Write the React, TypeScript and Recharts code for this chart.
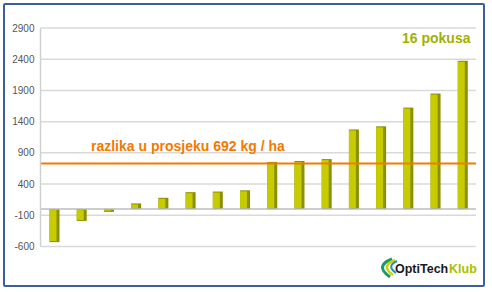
import { Bar, BarChart, CartesianGrid, ReferenceLine, XAxis, YAxis } from "recharts";

const trials = ["1", "2", "3", "4", "5", "6", "7", "8", "9", "10", "11", "12", "13", "14", "15", "16"];
const yieldDiff = [-530, -190, -45, 90, 180, 270, 280, 300, 755, 770, 800, 1275, 1325, 1625, 1850, 2375];
const yTicks = [-600, -100, 400, 900, 1400, 1900, 2400, 2900];
const avgLine = 730;
const avgLabel = "razlika u prosjeku 692 kg / ha";
const countLabel = "16 pokusa";

const data = trials.map((t, i) => ({ trial: t, diff: yieldDiff[i] }));

const FONT = "'Liberation Sans', Arial, sans-serif";

function ShadedBar(props: any) {
  const { x, y, width, height } = props;
  const top = Math.min(y, y + height);
  const h = Math.abs(height);
  return (
    <g>
      <rect x={x} y={top} width={width} height={h} fill="#8a9000" />
      <rect x={x} y={top + 1} width={width - 3} height={Math.max(h - 2, 0)} fill="#c6cc00" />
    </g>
  );
}

function Overlay() {
  return (
    <svg width={492} height={292} style={{ position: "absolute", left: 0, top: 0, pointerEvents: "none" }}>
      <text x={91} y={151} fill="#f27a00" fontFamily={FONT} fontWeight="bold" fontSize={14}>
        {avgLabel}
      </text>
      <text x={402} y={43} fill="#a0b200" fontFamily={FONT} fontWeight="bold" fontSize={14}>
        {countLabel}
      </text>
      <path d="M392 259 Q374 266 390 277" stroke="#1a9a6c" strokeWidth={3} fill="none" />
      <path d="M395 260 Q380 266 393 275" stroke="#c8d400" strokeWidth={2.5} fill="none" />
      <path d="M397 261 Q386 266 396 273" stroke="#2c8fb0" strokeWidth={2} fill="none" />
      <text x={395} y={273} fontFamily={FONT} fontWeight="bold" fontSize={12.5} fill="#1a1a1a">
        OptiTech
      </text>
      <text x={449} y={273} fontFamily={FONT} fontWeight="bold" fontSize={12.5} fill="#a9c000">
        Klub
      </text>
    </svg>
  );
}

export default function App() {
  return (
    <div style={{ position: "absolute", left: 0, top: 0, width: 492, height: 292, background: "#fff" }}>
      <div
        style={{
          position: "absolute",
          left: 3,
          top: 3,
          width: 478,
          height: 280,
          border: "2px solid #3d5f9f",
          borderRadius: 2,
        }}
      />
      <div style={{ position: "absolute", left: 0, top: 0 }}>
        <BarChart width={492} height={292} data={data} margin={{ top: 28, right: 16, bottom: 45.5, left: 4.5 }}>
          <CartesianGrid horizontal vertical={false} stroke="#d9d9d9" strokeWidth={1.5} />
          <XAxis dataKey="trial" hide />
          <YAxis
            width={36}
            domain={[-600, 2900]}
            ticks={yTicks}
            interval={0}
            tickLine={false}
            tickSize={0}
            tickMargin={6}
            axisLine={{ stroke: "#d0d0d0", strokeWidth: 1.5 }}
            tick={{ fontSize: 10, fill: "#555", fontFamily: FONT }}
          />
          <ReferenceLine y={0} stroke="#bdbdbd" strokeWidth={1.5} />
          <Bar dataKey="diff" barSize={10} shape={ShadedBar} isAnimationActive={false} />
          <ReferenceLine y={avgLine} stroke="#f07d00" strokeWidth={2} />
        </BarChart>
      </div>
      <Overlay />
    </div>
  );
}
